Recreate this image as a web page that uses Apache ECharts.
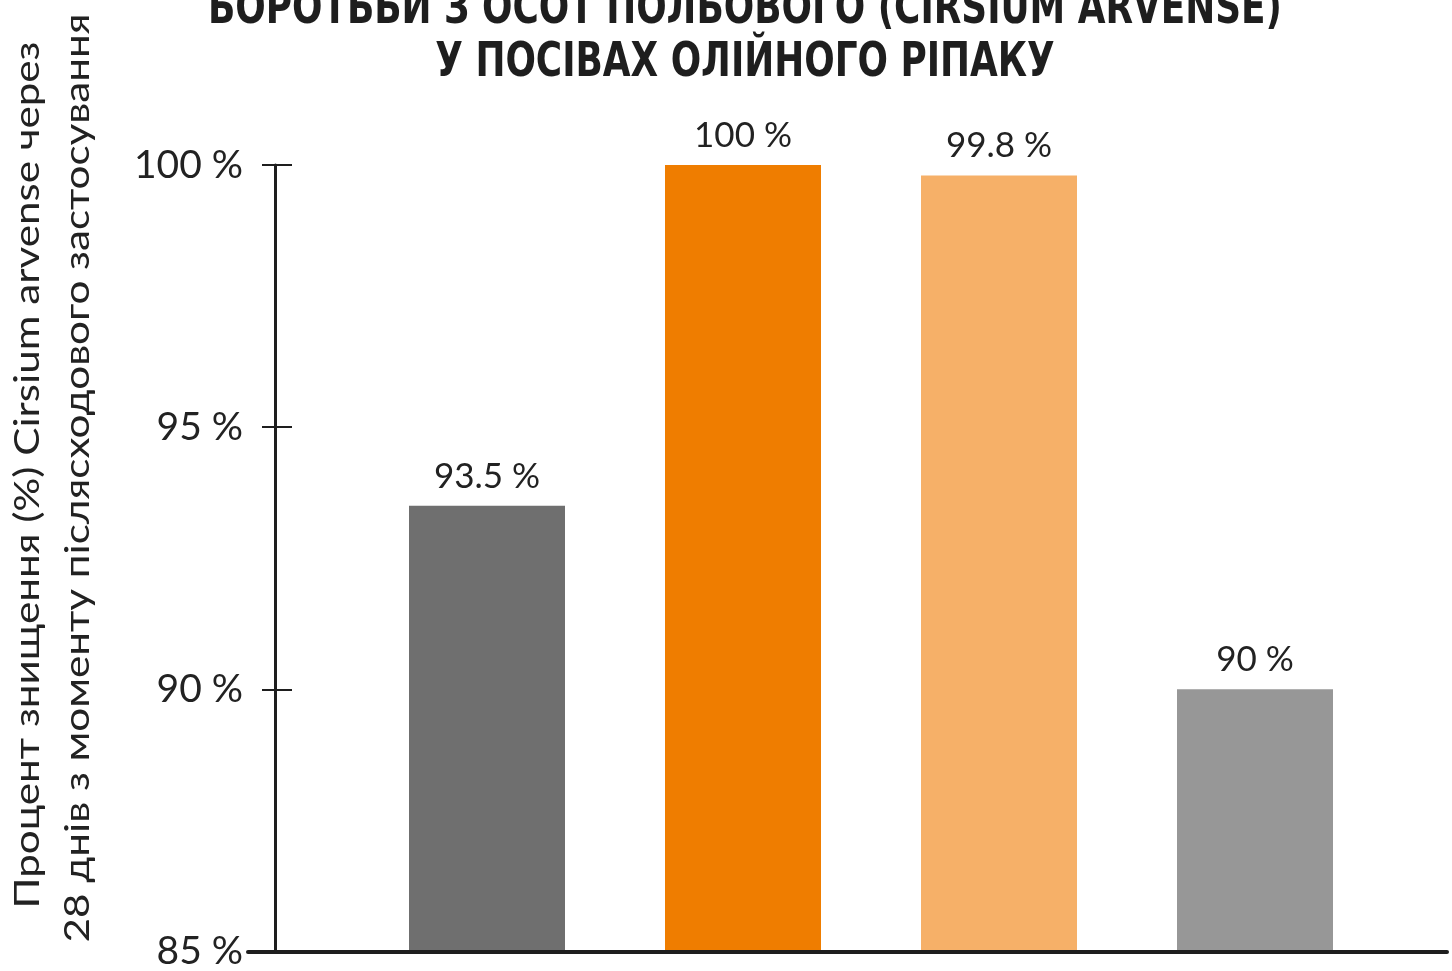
<!DOCTYPE html>
<html><head><meta charset="utf-8">
<script src="https://cdn.jsdelivr.net/npm/echarts@6/dist/echarts.min.js"></script>
<style>html,body{margin:0;padding:0;background:#fff}#c{width:1452px;height:971px}</style>
</head><body><div id="c"></div>
<script>
const titleLines = ['БОРОТЬБИ З ОСОТ ПОЛЬОВОГО (CIRSIUM ARVENSE)', 'У ПОСІВАХ ОЛІЙНОГО РІПАКУ'];
const yNameLines = ['Процент знищення (%) Cirsium arvense через', '28 днів з моменту післясходового застосування'];
const categories = ['1', '2', '3', '4'];
const values = [93.5, 100, 99.8, 90];
const barColors = ['#6f6f6f', '#ef7d00', '#f6b068', '#979797'];
const yMin = 85, yMax = 100, yStep = 5;

const chart = echarts.init(document.getElementById('c'), null, {renderer: 'canvas'});
const labelFont = 'Lato, "Open Sans", sans-serif';
chart.setOption({
  animation: false,
  backgroundColor: '#fff',
  grid: [
    {left: 359, right: 69, top: 165, bottom: 19},
    {left: 248, right: 5, top: 165, bottom: 19}
  ],
  xAxis: [
    {type: 'category', gridIndex: 0, data: categories, axisLine: {show: false}, axisTick: {show: false}, axisLabel: {show: false}},
    {type: 'value', gridIndex: 1, min: 0, max: 1, axisLine: {show: true, lineStyle: {color: '#1e1e1e', width: 4}}, axisTick: {show: false}, axisLabel: {show: false}, splitLine: {show: false}, z: 10}
  ],
  yAxis: [
    {type: 'value', gridIndex: 0, min: yMin, max: yMax, interval: yStep, offset: 84,
     axisLine: {show: true, lineStyle: {color: '#1e1e1e', width: 3}},
     axisTick: {show: true, inside: false, length: 13, lineStyle: {color: '#1e1e1e', width: 2}},
     axisLabel: {margin: 32, fontFamily: labelFont, fontSize: 39, color: '#222', formatter: v => v + ' %'},
     splitLine: {show: false}},
    {type: 'value', gridIndex: 0, min: yMin, max: yMax, interval: yStep, offset: 84, position: 'left',
     axisLine: {show: false}, axisTick: {show: true, inside: true, length: 17, lineStyle: {color: '#1e1e1e', width: 2}},
     axisLabel: {show: false}, splitLine: {show: false}},
    {type: 'value', gridIndex: 1, show: false, min: 0, max: 1}
  ],
  graphic: [
    {type: 'text', x: 745, y: -16, scaleX: 0.83,
     style: {text: titleLines.join('\n'), font: 'bold 48px "DejaVu Sans Condensed", sans-serif', lineHeight: 53, fill: '#1e1e1e', textAlign: 'center', textVerticalAlign: 'top'}},
    {type: 'text', x: 28, y: 475, rotation: Math.PI / 2, scaleX: 1.24,
     style: {text: yNameLines[0], font: '34px ' + labelFont, fill: '#222', textAlign: 'center', textVerticalAlign: 'middle'}},
    {type: 'text', x: 78, y: 478, rotation: Math.PI / 2, scaleX: 1.24,
     style: {text: yNameLines[1], font: '34px ' + labelFont, fill: '#222', textAlign: 'center', textVerticalAlign: 'middle'}}
  ],
  series: [{
    type: 'bar', xAxisIndex: 0, yAxisIndex: 0, barWidth: 156,
    data: values.map((v, i) => ({value: v, itemStyle: {color: barColors[i]}})),
    label: {show: true, position: 'top', distance: 12, fontFamily: labelFont, fontSize: 35, color: '#222', formatter: p => p.value + ' %'}
  }]
});
</script></body></html>
